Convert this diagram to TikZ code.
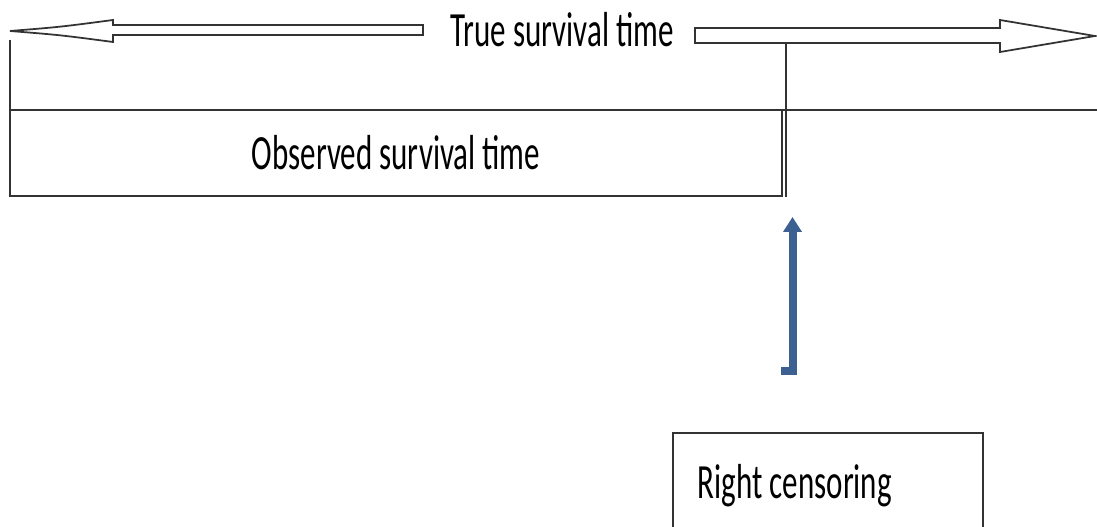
\documentclass[tikz,border=0pt]{standalone}
\usepackage{fontspec}
\setmainfont{Carlito}
\newfontfamily\narrowfont[FakeStretch=0.63]{Carlito}
\usetikzlibrary{arrows.meta}
\definecolor{censblue}{RGB}{60,96,146}

\begin{document}
\begin{tikzpicture}
  \tikzset{lbl/.style={font=\narrowfont\fontsize{28}{30}\selectfont, inner sep=0pt},
           edge/.style={line width=1pt, draw=black!80},
           censor/.style={line width=0.16cm, draw=censblue, -{Triangle[width=0.36cm,length=0.3cm]}}}
  \useasboundingbox (0,0) rectangle (21.94,10.54);
  \clip (0,0) rectangle (21.94,10.54);
  % true survival time
  \draw [edge,fill=white] (8.46,10.04) -- (2.26,10.04) -- (2.26,10.14)
        .. controls (1.2,10.0) .. (0.2,9.92) .. controls (1.2,9.84) .. (2.26,9.70)
        -- (2.26,9.84) -- (8.46,9.84) -- cycle;
  \draw [edge,fill=white] (13.9,9.98) -- (20.0,9.98) -- (20.0,10.14) -- (21.9,9.82)
        -- (20.0,9.50) -- (20.0,9.68) -- (13.9,9.68) -- cycle;
  \node [lbl,anchor=base west] (true) at (9.0,9.6) {True survival time};
  % time axis and observed part
  \draw [edge] (0.2,9.74) -- (0.2,8.34) -- (21.94,8.34);
  \node [lbl,edge,draw,minimum width=15.44cm,minimum height=1.72cm] (obs) at (7.92,7.48) {Observed survival time};
  \coordinate (cut) at (15.72,6.60);
  \draw [edge] (15.72,9.68) -- (cut);
  % censoring
  \node [lbl,edge,draw,anchor=north west,inner xsep=0.5cm,inner ysep=0.62cm] (cens) at (13.44,1.90) {\makebox[5.2cm][l]{Right censoring}};
  \coordinate (foot) at (15.62,3.12);
  \coordinate (tip) at (15.85,6.20);
  \draw [censor] (foot) -| (tip);
\end{tikzpicture}
\end{document}
